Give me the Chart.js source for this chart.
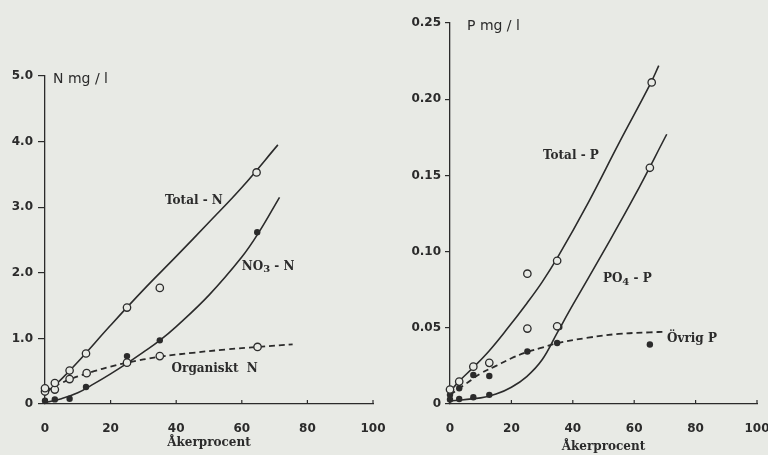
<!DOCTYPE html>
<html>
<head>
<meta charset="utf-8">
<script src="https://cdn.jsdelivr.net/npm/chart.js@4.4.0/dist/chart.umd.min.js"></script>
<style>
  html, body { margin: 0; padding: 0; background: #e8eae5; }
  #wrap { position: relative; width: 768px; height: 455px; overflow: hidden; }
  #cN, #cP { position: absolute; top: 0; }
  #cN { left: 0; }
  #cP { left: 384px; }
</style>
</head>
<body>
<div id="wrap">
  <canvas id="cN" width="400" height="455"></canvas>
  <canvas id="cP" width="384" height="455"></canvas>
</div>
<script>
// ---- axes ----
const xTicks = [0, 20, 40, 60, 80, 100];
const nTicks = [0, 1, 2, 3, 4, 5];
const nTickLabels = ['0', '1.0', '2.0', '3.0', '4.0', '5.0'];
const pTicks = [0, 0.05, 0.10, 0.15, 0.20, 0.25];
const pTickLabels = ['0', '0.05', '0.10', '0.15', '0.20', '0.25'];

// ---- nitrogen: measured values [åkerprocent, mg/l] ----
const totalN = [[0, 0.24], [3, 0.32], [7.5, 0.51], [12.5, 0.77], [25, 1.47], [35, 1.77], [64.5, 3.53]];
const organicN = [[0, 0.19], [3, 0.22], [7.5, 0.38], [12.7, 0.47], [25, 0.63], [35, 0.73], [64.8, 0.87]];
const nitrateN = [[0, 0.05], [3, 0.07], [7.5, 0.08], [12.5, 0.26], [25, 0.73], [35, 0.97], [64.7, 2.62]];

// ---- nitrogen: fitted curves ----
const totalNFit = [[0, 0.15], [5, 0.38], [10, 0.64], [20, 1.2], [30, 1.74], [40, 2.25], [50, 2.77], [60, 3.3], [71, 3.95]];
const nitrateNFit = [[0, 0.02], [5, 0.08], [10, 0.17], [15, 0.31], [20, 0.46], [25, 0.62], [30, 0.79], [35, 0.97], [40, 1.18], [50, 1.66], [60, 2.24], [65, 2.6], [71.5, 3.15]];
const organicNFit = [[0, 0.2], [5, 0.32], [10, 0.42], [15, 0.5], [20, 0.57], [25, 0.63], [35, 0.72], [45, 0.78], [55, 0.83], [65, 0.87], [75.5, 0.91]];

// ---- phosphorus: measured values [åkerprocent, mg/l] ----
const totalP = [[0, 0.0095], [3, 0.0147], [7.6, 0.0245], [12.8, 0.027], [25.2, 0.0855], [34.9, 0.094], [65.7, 0.211]];
const phosphateOpen = [[25.2, 0.0495], [34.9, 0.051], [65.1, 0.155]];
const phosphateFilled = [[0, 0.003], [3, 0.0033], [7.6, 0.0044], [12.8, 0.006], [35.6, 0.0505]];
const otherP = [[0, 0.006], [3, 0.0103], [7.6, 0.019], [12.8, 0.0184], [25.2, 0.0344], [34.9, 0.040], [65.1, 0.039]];

// ---- phosphorus: fitted curves ----
const totalPFit = [[0, 0.008], [3, 0.015], [7.6, 0.024], [12.8, 0.035], [18.5, 0.049], [25, 0.066], [30, 0.08], [35, 0.096], [45, 0.132], [55, 0.171], [65, 0.209], [68, 0.222]];
const phosphateFit = [[0, 0.002], [10, 0.004], [15, 0.0065], [20, 0.011], [25, 0.018], [30, 0.029], [35, 0.047], [40, 0.065], [50, 0.1], [60, 0.136], [70.6, 0.177]];
const otherPFit = [[0, 0.006], [5, 0.013], [10, 0.02], [15, 0.025], [20, 0.03], [25, 0.034], [30, 0.037], [35, 0.04], [45, 0.0435], [55, 0.046], [65, 0.047], [70.5, 0.0475]];

const INK = '#2b2b2b';
const PAPER = '#e8eae5';
const toXY = arr => arr.map(([x, y]) => ({ x, y }));

function openPoints(arr) {
  return { data: toXY(arr), showLine: false, pointRadius: 3.7, pointBorderWidth: 1.3,
           pointBackgroundColor: PAPER, pointBorderColor: INK, order: 0, clip: false };
}
function filledPoints(arr) {
  return { data: toXY(arr), showLine: false, pointRadius: 3.2, pointBorderWidth: 0,
           pointBackgroundColor: INK, pointBorderColor: INK, order: 0, clip: false };
}
function curve(arr, dashed) {
  return { data: toXY(arr), showLine: true, pointRadius: 0, borderColor: INK,
           borderWidth: dashed ? 1.8 : 1.6, borderDash: dashed ? [6, 4] : [],
           tension: 0.4, order: 1, clip: false };
}

const tickFont = { family: '"DejaVu Sans"', size: 12, weight: 'bold' };

function xScale(titlePadBottom) {
  return {
    type: 'linear', min: 0, max: 100,
    afterBuildTicks: s => { s.ticks = xTicks.map(v => ({ value: v })); },
    afterFit: s => { s.height = 51; s.paddingLeft = 0; s.paddingRight = 0; },
    grid: { display: false },
    border: { display: true, color: INK, width: 1.3 },
    ticks: { padding: 10, color: INK, font: tickFont, maxRotation: 0, autoSkip: false,
             callback: v => String(v) },
    title: { display: true, text: 'Åkerprocent', color: INK,
             font: { family: '"DejaVu Serif"', size: 12, weight: 'bold' },
             padding: { top: 0, bottom: titlePadBottom } }
  };
}
function yScale(max, values, labels, width, tickLen, pad) {
  return {
    type: 'linear', min: 0, max: max,
    afterBuildTicks: s => { s.ticks = values.map(v => ({ value: v })); },
    afterFit: s => { s.width = width; s.paddingTop = 0; s.paddingBottom = 0; },
    grid: { display: true, drawOnChartArea: false, drawTicks: true, tickLength: tickLen,
            color: INK, lineWidth: 1.2 },
    border: { display: true, color: INK, width: 1.3 },
    ticks: { padding: pad, color: INK, font: tickFont, autoSkip: false,
             callback: (v, i) => labels[i] }
  };
}

// Unit caption, inward x ticks and curve names
const annotate = {
  id: 'annotate',
  afterDraw(chart, args, opts) {
    const { ctx, chartArea, scales: { x, y } } = chart;
    ctx.save();
    ctx.strokeStyle = INK;
    ctx.lineWidth = 1.2;
    xTicks.forEach(v => {
      const px = x.getPixelForValue(v);
      ctx.beginPath();
      ctx.moveTo(px, chartArea.bottom);
      ctx.lineTo(px, chartArea.bottom - 4);
      ctx.stroke();
    });
    ctx.fillStyle = INK;
    ctx.textBaseline = 'middle';
    ctx.textAlign = 'left';
    ctx.font = '14px "DejaVu Sans"';
    ctx.fillText(opts.unit, chartArea.left + opts.unitDx, chartArea.top + 3);
    opts.labels.forEach(l => {
      let px = x.getPixelForValue(l.x);
      const py = y.getPixelForValue(l.y);
      l.parts.forEach(p => {
        ctx.font = p.sub ? 'bold 10px "DejaVu Serif"' : 'bold 12px "DejaVu Serif"';
        ctx.fillText(p.t, px, p.sub ? py + 3 : py);
        px += ctx.measureText(p.t).width;
      });
    });
    ctx.restore();
  }
};

new Chart(document.getElementById('cN'), {
  type: 'scatter',
  data: { datasets: [
    openPoints(totalN), openPoints(organicN), filledPoints(nitrateN),
    curve(totalNFit, false), curve(nitrateNFit, false), curve(organicNFit, true)
  ] },
  options: {
    responsive: false, animation: false, devicePixelRatio: 1,
    layout: { padding: { left: 0, right: 27, top: 76, bottom: 0 } },
    scales: { x: xScale(5), y: yScale(5, nTicks, nTickLabels, 45, 7, 5) },
    plugins: {
      legend: { display: false }, tooltip: { enabled: false },
      annotate: {
        unit: 'N mg / l', unitDx: 8,
        labels: [
          { x: 36.6, y: 3.1, parts: [{ t: 'Total - N' }] },
          { x: 60, y: 2.09, parts: [{ t: 'NO' }, { t: '3', sub: true }, { t: ' - N' }] },
          { x: 38.6, y: 0.54, parts: [{ t: 'Organiskt  N' }] }
        ]
      }
    }
  },
  plugins: [annotate]
});

new Chart(document.getElementById('cP'), {
  type: 'scatter',
  data: { datasets: [
    openPoints(totalP), openPoints(phosphateOpen), filledPoints(phosphateFilled), filledPoints(otherP),
    curve(totalPFit, false), curve(phosphateFit, false), curve(otherPFit, true)
  ] },
  options: {
    responsive: false, animation: false, devicePixelRatio: 1,
    layout: { padding: { left: 0, right: 11, top: 23, bottom: 0 } },
    scales: { x: xScale(1), y: yScale(0.25, pTicks, pTickLabels, 66, 5, 4) },
    plugins: {
      legend: { display: false }, tooltip: { enabled: false },
      annotate: {
        unit: 'P mg / l', unitDx: 17,
        labels: [
          { x: 30.3, y: 0.1625, parts: [{ t: 'Total - P' }] },
          { x: 49.8, y: 0.082, parts: [{ t: 'PO' }, { t: '4', sub: true }, { t: ' - P' }] },
          { x: 70.7, y: 0.0428, parts: [{ t: 'Övrig P' }] }
        ]
      }
    }
  },
  plugins: [annotate]
});
</script>
</body>
</html>
